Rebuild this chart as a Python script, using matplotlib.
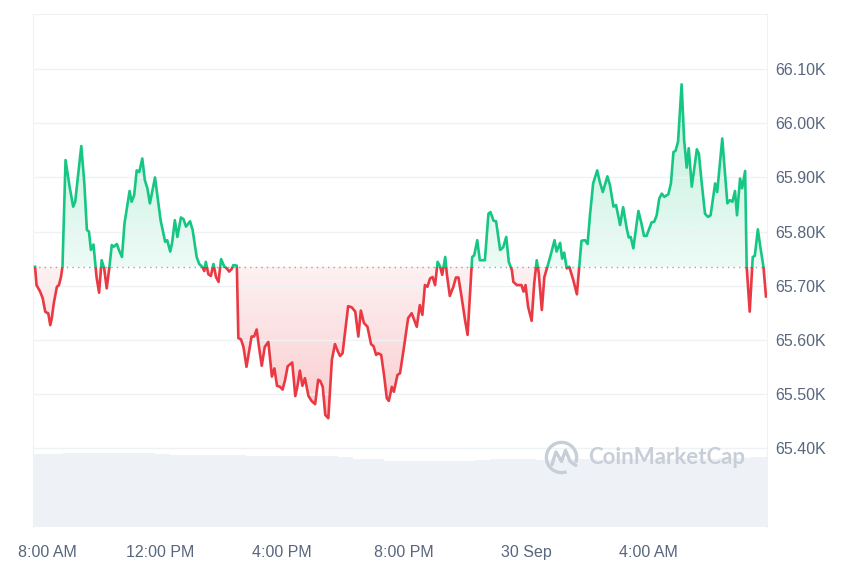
import numpy as np
import pandas as pd
import matplotlib
matplotlib.use("Agg")
import matplotlib.pyplot as plt
import matplotlib.dates as mdates
from matplotlib.patches import Rectangle, Arc
from matplotlib.path import Path
from matplotlib.transforms import ScaledTranslation

# ------------------------------
# data
# ------------------------------
start = pd.Timestamp("2024-09-29 08:00")

# minutes after 8:00 AM
minutes = [-6, -3, 4, 9, 14, 17, 20, 24, 27, 31, 37, 41, 45, 48, 54, 62, 69, 73, 85, 91,
           96, 100, 104, 109, 113, 115, 120, 125, 130, 135, 140, 145, 149, 155, 159, 165, 170, 180, 184, 189,
           194, 199, 205, 210, 215, 220, 230, 235, 241, 250, 254, 260, 264, 269, 274, 281, 286, 291, 299, 304,
           312, 317, 323, 327, 330, 335, 340, 345, 350, 355, 360, 366, 371, 376, 381, 384, 391, 394, 399, 404,
           410, 416, 420, 425, 430, 435, 440, 446, 453, 460, 465, 470, 476, 481, 486, 491, 500, 506, 510, 515,
           520, 525, 532, 538, 545, 551, 555, 560, 565, 571, 578, 584, 590, 594, 599, 610, 617, 624, 630, 635,
           641, 648, 655, 660, 665, 669, 675, 681, 686, 690, 696, 700, 707, 712, 719, 728, 735, 745, 751, 756,
           761, 766, 771, 776, 781, 786, 791, 795, 801, 804, 810, 817, 822, 827, 833, 840, 845, 854, 858, 864,
           869, 879, 886, 890, 896, 901, 909, 915, 921, 926, 932, 935, 942, 951, 955, 959, 964, 971, 976, 981,
           985, 991, 996, 1003, 1008, 1016, 1020, 1027, 1031, 1035, 1040, 1045, 1053, 1060, 1069, 1076, 1081, 1086, 1092, 1100,
           1105, 1111, 1120, 1125, 1132, 1137, 1145, 1151, 1158, 1162, 1166, 1171, 1181, 1187, 1192, 1197, 1207, 1212, 1217, 1222,
           1227, 1232, 1240, 1245, 1250, 1254, 1259, 1266, 1271, 1276, 1280, 1286, 1290, 1296, 1300, 1305, 1312, 1318, 1323, 1332,
           1336, 1346, 1351, 1356, 1361, 1366, 1371, 1375, 1381, 1385, 1391, 1394, 1400, 1406, 1410, 1416, 1421, 1427, 1432]

# BTC price, USD
price = [65735, 65701, 65689, 65677, 65652, 65650, 65649, 65627, 65640, 65668, 65698, 65701, 65716, 65735, 65932, 65883, 65846, 65855, 65958, 65889,
         65803, 65800, 65766, 65776, 65735, 65716, 65687, 65747, 65732, 65695, 65732, 65775, 65772, 65777, 65766, 65753, 65815, 65875, 65855, 65867,
         65913, 65910, 65935, 65895, 65880, 65852, 65900, 65864, 65821, 65781, 65784, 65763, 65781, 65821, 65790, 65826, 65823, 65809, 65819, 65803,
         65753, 65740, 65735, 65727, 65744, 65721, 65718, 65740, 65716, 65707, 65749, 65736, 65732, 65726, 65731, 65738, 65737, 65603, 65601, 65587,
         65550, 65584, 65606, 65606, 65619, 65584, 65552, 65587, 65596, 65532, 65547, 65515, 65513, 65508, 65526, 65551, 65558, 65496, 65513, 65543,
         65515, 65529, 65496, 65487, 65481, 65526, 65524, 65513, 65461, 65455, 65563, 65592, 65578, 65570, 65575, 65662, 65660, 65652, 65606, 65654,
         65631, 65624, 65592, 65588, 65572, 65575, 65572, 65532, 65492, 65487, 65513, 65504, 65535, 65538, 65581, 65640, 65649, 65624, 65664, 65646,
         65701, 65698, 65713, 65716, 65701, 65744, 65735, 65720, 65753, 65723, 65681, 65698, 65715, 65715, 65680, 65636, 65609, 65753, 65756, 65784,
         65747, 65747, 65833, 65836, 65820, 65819, 65766, 65771, 65790, 65744, 65729, 65707, 65701, 65701, 65689, 65701, 65661, 65635, 65704, 65747,
         65723, 65655, 65716, 65738, 65755, 65784, 65763, 65779, 65750, 65761, 65732, 65735, 65710, 65684, 65783, 65784, 65777, 65833, 65889, 65913,
         65892, 65873, 65902, 65886, 65846, 65849, 65812, 65845, 65806, 65789, 65790, 65769, 65838, 65815, 65792, 65792, 65817, 65818, 65830, 65861,
         65870, 65864, 65869, 65889, 65947, 65949, 65966, 66072, 65969, 65918, 65954, 65883, 65910, 65952, 65944, 65895, 65833, 65827, 65830, 65889,
         65873, 65972, 65913, 65852, 65858, 65855, 65875, 65830, 65898, 65880, 65912, 65735, 65652, 65753, 65755, 65804, 65771, 65735, 65680]

# 30-minute volume bars (arbitrary units, shown as a flat band at the bottom)
volume = [14.6, 14.7, 14.8, 14.8, 14.9, 14.8, 14.8, 14.8, 14.7, 14.5, 14.5, 14.4, 14.5, 14.5, 14.3, 14.2,
          14.2, 14.3, 14.2, 14.2, 14.1, 13.7, 13.6, 13.3, 13.3, 13.2, 13.3, 13.3, 13.3, 13.4, 13.6, 13.6,
          13.6, 13.5, 13.6, 13.6, 13.6, 13.5, 13.6, 13.6, 13.7, 13.6, 13.6, 13.7, 13.7, 13.8, 13.9, 14.0, 14.0]

y_ticks = [65400, 65500, 65600, 65700, 65800, 65900, 66000, 66100]
x_tick_times = ["2024-09-29 08:00", "2024-09-29 12:00", "2024-09-29 16:00",
                "2024-09-29 20:00", "2024-09-30 00:00", "2024-09-30 04:00"]
x_tick_labels = ["8:00 AM", "12:00 PM", "4:00 PM", "8:00 PM", "30 Sep", "4:00 AM"]

GREEN = "#16c784"
RED = "#ea3943"
GREY_TXT = "#58667e"
MARK = "#c8ced8"

plt.rcParams["font.family"] = ["Liberation Sans", "DejaVu Sans"]

# ------------------------------
# figure
# ------------------------------
t = mdates.date2num(start + pd.to_timedelta(minutes, unit="min"))
p = np.array(price, dtype=float)
base = price[0]

x_min = mdates.date2num(start - pd.Timedelta(minutes=10))
x_max = mdates.date2num(start + pd.Timedelta(minutes=1434))
y_min, y_max = 65254, 66202

fig = plt.figure(figsize=(8.6, 5.73), dpi=100)
rect = [33 / 860, 46 / 573, 734 / 860, 513 / 573]

# volume band, behind the price axes
vax = fig.add_axes(rect, zorder=0)
vol_t = mdates.date2num(start - pd.Timedelta(minutes=10)
                        + pd.to_timedelta(np.arange(len(volume)) * 30, unit="min"))
vax.bar(vol_t, volume, width=30 / 1440, align="edge", color="#eef1f5", edgecolor="none")
vax.set_xlim(x_min, x_max)
vax.set_ylim(0, 102.6)
vax.axis("off")

ax = fig.add_axes(rect, zorder=1)
ax.patch.set_alpha(0)


def gradient_fill(where, color, lo, hi, a_lo, a_hi, flip=False):
    poly = ax.fill_between(t, p, base, where=where, interpolate=True,
                           facecolor="none", edgecolor="none")
    paths = poly.get_paths()
    if not paths:
        return
    clip = Path.make_compound_path(*paths)
    rgba = np.zeros((256, 1, 4))
    rgba[..., :3] = matplotlib.colors.to_rgb(color)
    alphas = np.linspace(a_lo, a_hi, 256)
    if flip:
        alphas = alphas[::-1]
    rgba[:, 0, 3] = alphas
    im = ax.imshow(rgba, extent=[x_min, x_max, lo, hi], origin="lower",
                   aspect="auto", zorder=1, interpolation="bilinear")
    im.set_clip_path(clip, transform=ax.transData)


gradient_fill(p >= base, GREEN, base, base + 340, 0.08, 0.28)
gradient_fill(p <= base, RED, base - 280, base, 0.07, 0.26, flip=True)
ax.set_xlim(x_min, x_max)
ax.set_ylim(y_min, y_max)

# price line, green above the open price and red below
up_line, = ax.plot(t, p, color=GREEN, lw=1.9, zorder=3, solid_joinstyle="round")
dn_line, = ax.plot(t, p, color=RED, lw=1.9, zorder=3, solid_joinstyle="round")
up_line.set_clip_path(Rectangle((x_min, base), x_max - x_min, y_max - base, transform=ax.transData))
dn_line.set_clip_path(Rectangle((x_min, y_min), x_max - x_min, base - y_min, transform=ax.transData))

ax.axhline(base, color="#9aa3b5", lw=1, ls=(0, (1, 3)), zorder=2)

# axes styling
ax.yaxis.tick_right()
ax.set_yticks(y_ticks)
ax.set_yticklabels([f"{v / 1000:.2f}K" for v in y_ticks])
ax.set_xticks(mdates.date2num(pd.to_datetime(x_tick_times)))
ax.set_xticklabels(x_tick_labels)
ax.tick_params(axis="y", length=0, pad=6, labelsize=11.5, labelcolor=GREY_TXT)
ax.tick_params(axis="x", length=0, pad=13, labelsize=11.5, labelcolor=GREY_TXT)
first = ax.xaxis.get_majorticklabels()[0]
first.set_transform(first.get_transform() + ScaledTranslation(0.09, 0, fig.dpi_scale_trans))
ax.grid(axis="y", color="#eff2f5", lw=1, zorder=0)
for side in ["left", "right", "top"]:
    ax.spines[side].set_color("#eff2f5")
ax.spines["bottom"].set_visible(False)

# watermark
fig.text(588 / 860, 1 - 458 / 573, "CoinMarketCap", fontsize=16, fontweight="bold",
         family="Lato", color=MARK, va="center", ha="left")
lax = fig.add_axes([544 / 860, 1 - 475 / 573, 35 / 860, 35 / 573], zorder=2)
lax.set_xlim(-1.1, 1.1)
lax.set_ylim(-1.1, 1.1)
lax.set_aspect("equal")
lax.axis("off")
lax.add_patch(Arc((0, 0), 1.9, 1.9, theta1=-20, theta2=290, color=MARK, lw=2.4))
lax.plot([-0.6, -0.35, 0.0, 0.25, 0.55, 0.9], [-0.45, 0.35, -0.25, 0.45, -0.25, -0.5],
         color=MARK, lw=2.4, solid_joinstyle="round", solid_capstyle="round")

fig.savefig("out.png", dpi=100)
